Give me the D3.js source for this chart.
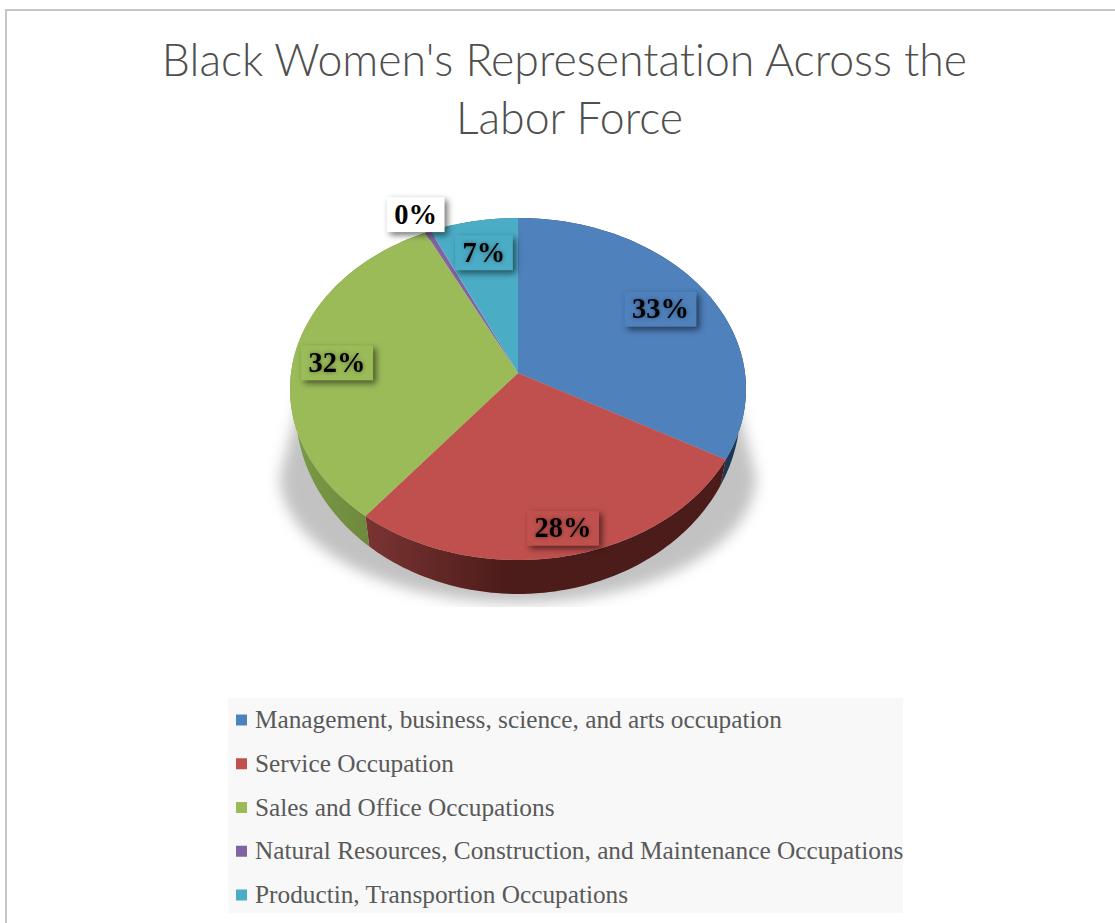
<!DOCTYPE html>
<html><head><meta charset="utf-8">
<script src="https://cdn.jsdelivr.net/npm/d3@7/dist/d3.min.js"></script>
<style>html,body{margin:0;padding:0;background:#fff;overflow:hidden}svg{display:block}</style>
</head><body><div id="chart"></div>
<script>
const categories = ["Management, business, science, and arts occupation","Service Occupation","Sales and Office Occupations","Natural Resources, Construction, and Maintenance Occupations","Productin, Transportion Occupations"];
const shares = [33.1, 27.6, 32.0, 0.45, 6.85];
const colors = ["#4f81bd","#c0504d","#9bbb59","#8064a2","#4bacc6"];
const wallStart = ["#24405f","#7a3432","#7c9a46","#4d3c62","#2d6a7a"];
const wallEnd = ["#1c3552","#4c1c1a","#647d38","#4d3c62","#2d6a7a"];
const titleLines = ["Black Women's Representation Across the","Labor Force"];
const titleCenters = [564.5, 569.5];
const labelRadius = [0.77, 0.86, 0.79, 1.15, 0.75];
const labelNudge = [[-3,0],[4,0],[-4,4],[0,2],[0,-4]];
const labelFill = ["#4f81bd","#c0504d","#9bbb59","#ffffff","#4bacc6"];

const W = 1115, H = 923;
const svg = d3.select("#chart").append("svg").attr("width",W).attr("height",H);
const defs = svg.append("defs");
defs.append("filter").attr("id","soft").attr("x","-20%").attr("y","-30%").attr("width","140%").attr("height","160%")
  .append("feGaussianBlur").attr("stdDeviation",7);
defs.append("clipPath").attr("id","shadowClip").append("rect").attr("x",262).attr("y",370).attr("width",510).attr("height",237);

svg.append("rect").attr("x",6).attr("y",10).attr("width",W+20).attr("height",H+20)
  .attr("fill","#fff").attr("stroke","#c6c6c6").attr("stroke-width",2);

// projective mapping of the unit disc onto the tilted pie face
const cx = 518, cy = 373, rx = 227, ry = 169.5, k = 0.0935;
const face = (r,a) => {
  const u = r*Math.sin(a), v = -r*Math.cos(a), w = 1 - k*v;
  return [cx + rx*u/w, cy + ry*v/w];
};
const base = (a) => {
  const p = face(1,a);
  return [cx + 0.975*(p[0]-cx), cy + 19 + 1.08*(p[1]-cy)];
};
const pie = d3.pie().sort(null).value(d=>d)(shares);
const line = d3.line();
const steps = (s) => d3.range(0,81).map(i => s.startAngle + (s.endAngle-s.startAngle)*i/80);

// floor shadow: a cone from the pie's sides that ends in a wide rounded foot
const foot = d3.range(0,61).map(i => {
  const t = Math.PI*i/60;
  return [cx + 238*Math.cos(t), 476 + 127*Math.sin(t)];
});
svg.append("g").attr("clip-path","url(#shadowClip)")
  .append("path").attr("d",line([[728,370]].concat(foot,[[308,370]]))+"Z")
  .attr("fill","#c2c2c2").attr("filter","url(#soft)");

// side walls
pie.forEach((s,i)=>{
  const as = steps(s);
  const top = as.map(a=>face(1,a)), bot = as.map(base);
  const xs = top.concat(bot).map(p=>p[0]);
  const id = "wall"+i;
  const g = defs.append("linearGradient").attr("id",id).attr("gradientUnits","userSpaceOnUse")
    .attr("x1",d3.min(xs)).attr("x2", i===1 ? d3.min(xs)+140 : d3.max(xs)).attr("y1",0).attr("y2",0);
  g.append("stop").attr("offset",0).attr("stop-color",wallStart[i]);
  g.append("stop").attr("offset",1).attr("stop-color",wallEnd[i]);
  svg.append("path").attr("d",line(top.concat(bot.reverse()))+"Z").attr("fill",`url(#${id})`);
});

// top faces
svg.append("g").selectAll("path").data(pie).join("path")
  .attr("d",s=>line([[cx,cy]].concat(steps(s).map(a=>face(1,a))))+"Z")
  .attr("fill",(s,i)=>colors[i]);

// data labels
const lab = svg.append("g");
pie.forEach((s,i)=>{
  const p = face(labelRadius[i],(s.startAngle+s.endAngle)/2);
  const x = p[0]+labelNudge[i][0], y = p[1]+labelNudge[i][1];
  const txt = Math.round(shares[i])+"%";
  const t = lab.append("g");
  const r = t.append("rect").attr("fill",labelFill[i])
    .style("filter","drop-shadow(3px 3px 3px rgba(0,0,0,.55))");
  const e = t.append("text").attr("x",x).attr("y",y+9).attr("text-anchor","middle")
    .attr("font-family","'Liberation Serif'").attr("font-weight",700).attr("font-size",28.5).attr("fill","#000")
    .style("filter", i===3 ? null : "drop-shadow(0 0 2px rgba(0,0,0,.4))").text(txt);
  const w = e.node().getComputedTextLength()+15;
  r.attr("x",x-w/2).attr("y",y-17.5).attr("width",w).attr("height",35);
});

// title
svg.append("g").selectAll("text").data(titleLines).join("text")
  .attr("x",(d,i)=>titleCenters[i]).attr("y",(d,i)=>76+i*58).attr("text-anchor","middle")
  .attr("font-family","Lato").attr("font-weight",300).attr("font-size",44.6).attr("fill","#4f4f4f")
  .style("font-variant-ligatures","none").text(d=>d);

// legend
const rowY = d3.scalePoint().domain(d3.range(categories.length)).range([720,895]);
svg.append("rect").attr("x",228).attr("y",698).attr("width",675).attr("height",215).attr("fill","#f8f8f8");
const leg = svg.append("g").selectAll("g").data(categories).join("g")
  .attr("transform",(d,i)=>`translate(236,${rowY(i)})`);
leg.append("rect").attr("x",0).attr("y",-5.5).attr("width",11).attr("height",11).attr("fill",(d,i)=>colors[i]);
leg.append("text").attr("x",19).attr("y",8.2)
  .attr("font-family","'Liberation Serif'").attr("font-size",25.3).attr("fill","#595959").text(d=>d);
</script></body></html>
